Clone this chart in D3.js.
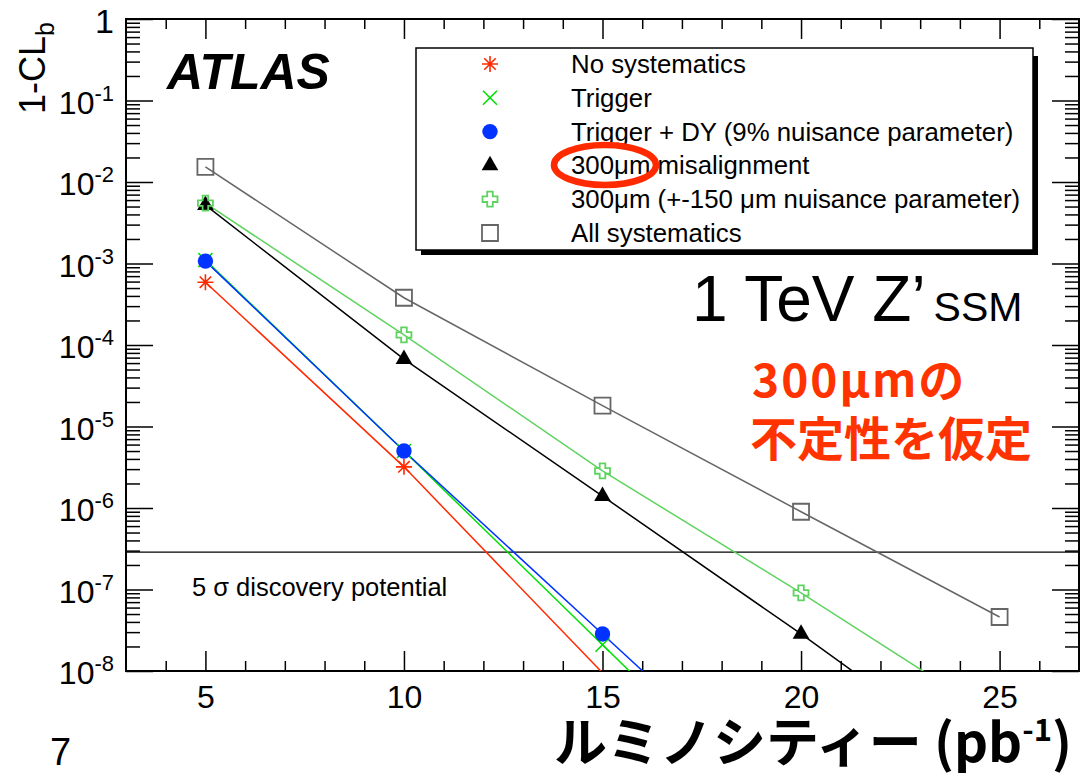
<!DOCTYPE html>
<html>
<head>
<meta charset="utf-8">
<script src="https://cdn.jsdelivr.net/npm/d3@7"></script>
<style>
  body { margin: 0; background: #fff; }
  svg { display: block; font-family: "Liberation Sans", Arial, sans-serif; }
</style>
</head>
<body>
<svg id="chart" width="1081" height="777"></svg>
<script>
// values (1-CL_b vs integrated luminosity)
const lumi = [5, 10, 15, 20, 25];
const noSyst = [5.9e-4, 3.2e-6, 9.5e-9, 2e-11, 4e-14];
const trigger = [1.1e-3, 5.0e-6, 2.1e-8, 8.7e-11, 3e-13];
const triggerDY = [1.07e-3, 5.0e-6, 2.85e-8, 1.6e-10, 9e-13];
const misalign = [5.2e-3, 6.7e-5, 1.4e-6, 2.85e-8, 5e-10];
const misalignNuis = [5.5e-3, 1.33e-4, 2.85e-6, 9.1e-8, 2.5e-9];
const allSyst = [1.53e-2, 3.8e-4, 1.8e-5, 9.0e-7, 4.6e-8];

const seriesNames = [
  "No systematics",
  "Trigger",
  "Trigger + DY (9% nuisance parameter)",
  "300μm misalignment",
  "300μm (+-150 μm nuisance parameter)",
  "All systematics",
];
const seriesValues = [noSyst, trigger, triggerDY, misalign, misalignNuis, allSyst];
const seriesColors = ["#ff2a00", "#00e000", "#0033ff", "#000000", "#5fd35f", "#666666"];
const seriesMarkers = ["star", "x", "circle", "triangle", "cross", "square"];

const discovery5sigma = 2.87e-7;
const xMajorTicks = [5, 10, 15, 20, 25];
const yMajorExp = [0, -1, -2, -3, -4, -5, -6, -7, -8];

const svg = d3.select("#chart");
const fLeft = 126, fRight = 1079, fTop = 19, fBottom = 671;

const x = d3.scaleLinear([3, 27], [fLeft, fRight]);
const y = d3.scaleLog([1e-8, 1], [fBottom, fTop]);

svg.append("clipPath").attr("id", "frame-clip")
  .append("rect")
  .attr("x", fLeft).attr("y", fTop)
  .attr("width", fRight - fLeft).attr("height", fBottom - fTop);

// ---- axes (ROOT style, ticks inward on all four sides)
const xMinor = x.ticks(24).filter((d) => d % 5 !== 0 && d > 3 && d < 27);
const yMajor = yMajorExp.map((e) => Math.pow(10, e));
const yMinor = y.ticks().filter((d) => {
  const m = d / Math.pow(10, Math.floor(Math.log10(d) + 1e-9));
  return Math.abs(m - 1) > 1e-6;
});

function noDomain(g) {
  g.select(".domain").remove();
  g.selectAll(".tick line").attr("stroke", "#000").attr("stroke-width", 1.5);
}

svg.append("g").attr("transform", `translate(0,${fBottom})`)
  .call(d3.axisBottom(x).tickValues(xMajorTicks).tickSize(-20).tickPadding(14))
  .call(noDomain)
  .call((g) => g.selectAll(".tick text")
    .attr("fill", "#000").attr("font-size", 32).attr("dy", 0).attr("y", 37)
    .attr("font-family", "Liberation Sans, Arial, sans-serif"));
svg.append("g").attr("transform", `translate(0,${fBottom})`)
  .call(d3.axisBottom(x).tickValues(xMinor).tickSize(-10).tickFormat(""))
  .call(noDomain);
svg.append("g").attr("transform", `translate(0,${fTop})`)
  .call(d3.axisTop(x).tickValues(xMajorTicks).tickSize(-20).tickFormat(""))
  .call(noDomain);
svg.append("g").attr("transform", `translate(0,${fTop})`)
  .call(d3.axisTop(x).tickValues(xMinor).tickSize(-10).tickFormat(""))
  .call(noDomain);

svg.append("g").attr("transform", `translate(${fLeft},0)`)
  .call(d3.axisLeft(y).tickValues(yMajor).tickSize(-27).tickFormat(""))
  .call(noDomain);
svg.append("g").attr("transform", `translate(${fLeft},0)`)
  .call(d3.axisLeft(y).tickValues(yMinor).tickSize(-14).tickFormat(""))
  .call(noDomain);
svg.append("g").attr("transform", `translate(${fRight},0)`)
  .call(d3.axisRight(y).tickValues(yMajor).tickSize(-27).tickFormat(""))
  .call(noDomain);
svg.append("g").attr("transform", `translate(${fRight},0)`)
  .call(d3.axisRight(y).tickValues(yMinor).tickSize(-14).tickFormat(""))
  .call(noDomain);

// y labels: 1, 10^-1 ... 10^-8
const yLab = svg.append("g").attr("font-size", 32).attr("text-anchor", "end");
yMajorExp.forEach((e) => {
  const t = yLab.append("text").attr("x", 114).attr("y", y(Math.pow(10, e)) + 13);
  if (e === 0) {
    t.text("1").attr("font-size", 34).attr("y", y(1) + 14);
  } else {
    t.append("tspan").text("10");
    t.append("tspan").attr("font-size", 22).attr("dy", -13).text(e);
  }
});

// frame
svg.append("rect")
  .attr("x", fLeft).attr("y", fTop)
  .attr("width", fRight - fLeft).attr("height", fBottom - fTop)
  .attr("fill", "none").attr("stroke", "#000").attr("stroke-width", 2);

// 5 sigma line
svg.append("line")
  .attr("x1", fLeft).attr("x2", fRight)
  .attr("y1", y(discovery5sigma)).attr("y2", y(discovery5sigma))
  .attr("stroke", "#000").attr("stroke-width", 1.3);
svg.append("text").attr("x", 192).attr("y", 596).attr("font-size", 25.5)
  .text("5 σ discovery potential");

// ---- markers
function markerPath(type) {
  switch (type) {
    case "star":
      return "M-8,0H8M0,-8V8M-5.7,-5.7L5.7,5.7M-5.7,5.7L5.7,-5.7";
    case "x":
      return "M-7,-7L7,7M-7,7L7,-7";
    case "circle":
      return d3.symbol(d3.symbolCircle, Math.PI * 7.7 * 7.7)();
    case "triangle":
      return d3.symbol(d3.symbolTriangle, 120)();
    case "cross": {
      const a = 2.8, r = 7.5;
      return `M${-a},${-r}H${a}V${-a}H${r}V${a}H${a}V${r}H${-a}V${a}H${-r}V${-a}H${-a}Z`;
    }
    case "square":
      return "M-8,-8H8V8H-8Z";
  }
}
function drawMarker(sel, type, color) {
  const filled = type === "circle" || type === "triangle";
  const open = type === "cross" || type === "square";
  sel.append("path")
    .attr("d", markerPath(type))
    .attr("fill", filled ? color : "none")
    .attr("stroke", filled ? "none" : color)
    .attr("stroke-width", open ? 1.8 : 1.6);
}

const plot = svg.append("g").attr("clip-path", "url(#frame-clip)");
const line = d3.line().x((d) => x(d[0])).y((d) => y(d[1]));

seriesValues.forEach((vals, i) => {
  const pts = lumi.map((l, j) => [l, vals[j]]);
  plot.append("path")
    .datum(pts)
    .attr("d", line)
    .attr("fill", "none")
    .attr("stroke", seriesColors[i])
    .attr("stroke-width", 1.5);
});
seriesValues.forEach((vals, i) => {
  lumi.forEach((l, j) => {
    if (vals[j] < 1e-8) return;
    const g = plot.append("g").attr("transform", `translate(${x(l)},${y(vals[j])})`);
    drawMarker(g, seriesMarkers[i], seriesColors[i]);
  });
});

// ---- legend
svg.append("rect").attr("x", 421).attr("y", 56).attr("width", 617).attr("height", 199).attr("fill", "#000");
svg.append("rect").attr("x", 416).attr("y", 48).attr("width", 617).attr("height", 202)
  .attr("fill", "#fff").attr("stroke", "#000").attr("stroke-width", 1.5);

const ly = d3.scalePoint(seriesNames, [64, 233]);
seriesNames.forEach((name, i) => {
  const g = svg.append("g").attr("transform", `translate(490,${ly(name)})`);
  drawMarker(g, seriesMarkers[i], seriesColors[i]);
  svg.append("text").attr("x", 571).attr("y", ly(name) + 9).attr("font-size", 25.8).text(name);
});

svg.append("ellipse")
  .attr("cx", 605).attr("cy", 165).attr("rx", 51).attr("ry", 20)
  .attr("fill", "none").attr("stroke", "#ff2a00").attr("stroke-width", 6.5);

// ---- texts
svg.append("text").attr("x", 167).attr("y", 89)
  .attr("font-size", 50).attr("font-weight", "bold").attr("font-style", "italic")
  .text("ATLAS");

const zp = svg.append("text").attr("x", 692).attr("y", 321).attr("font-size", 64);
zp.append("tspan").text("1 TeV Z’");
zp.append("tspan").attr("font-size", 41).attr("dx", 8).text("SSM");

const jp = "'Noto Sans CJK JP', sans-serif";
svg.append("text").attr("x", 752).attr("y", 397)
  .attr("font-family", jp).attr("font-weight", "bold").attr("font-size", 46)
  .attr("letter-spacing", 2)
  .attr("fill", "#ff3300").text("300μmの");
svg.append("text").attr("x", 750).attr("y", 456)
  .attr("font-family", jp).attr("font-weight", "bold").attr("font-size", 47)
  .attr("fill", "#ff3300").text("不定性を仮定");

// axis titles
const yt = svg.append("text")
  .attr("transform", "translate(45,114) rotate(-90)")
  .attr("font-size", 36);
yt.append("tspan").text("1-CL");
yt.append("tspan").attr("font-size", 25).attr("dy", 9).text("b");

const xt = svg.append("text").attr("x", 1072).attr("y", 762)
  .attr("text-anchor", "end").attr("font-weight", "bold").attr("font-size", 53)
  .attr("font-family", jp);
xt.append("tspan").text("ルミノシティー (pb");
xt.append("tspan").attr("font-size", 31).attr("dy", -21).text("-1");
xt.append("tspan").attr("dy", 21).text(")");

svg.append("text").attr("x", 50).attr("y", 765).attr("font-size", 38).text("7");
</script>
</body>
</html>
